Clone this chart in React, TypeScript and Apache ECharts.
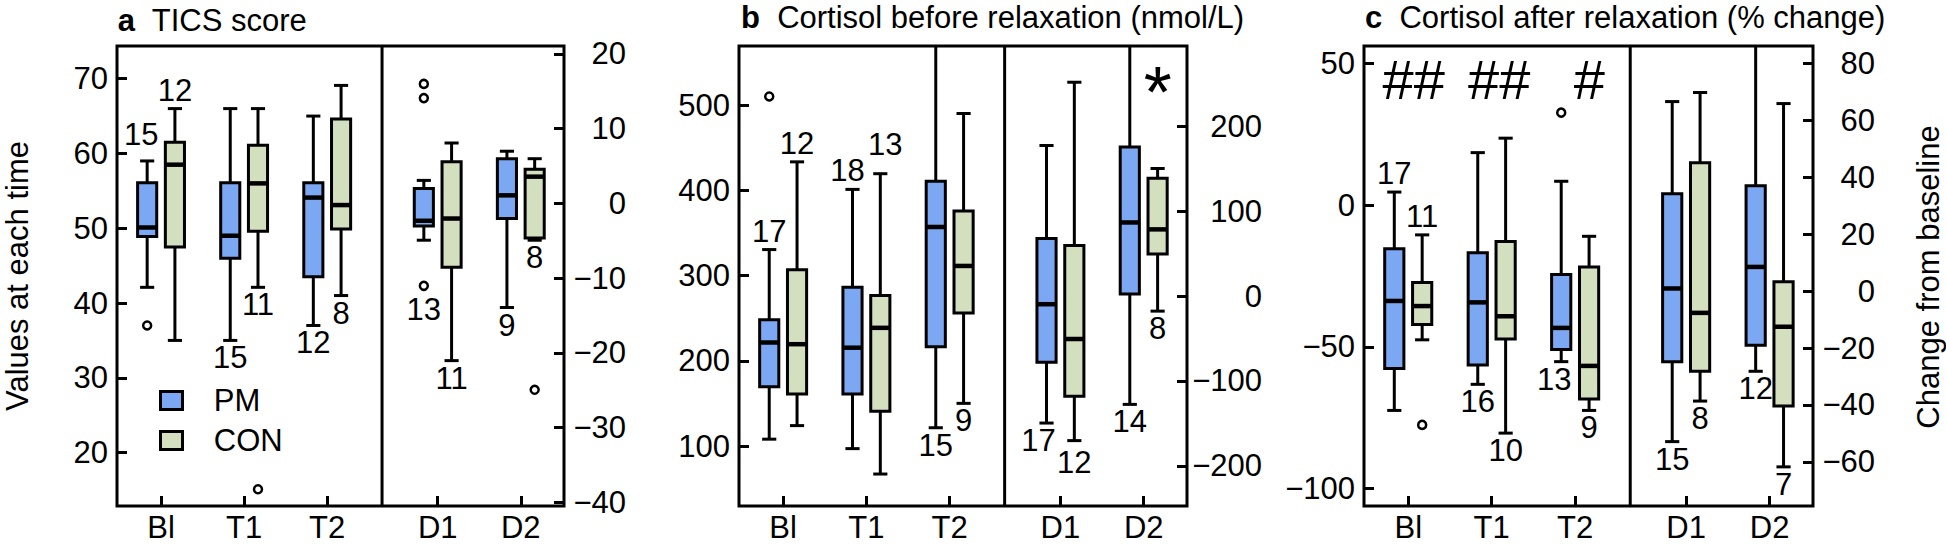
import React, { useEffect, useRef } from 'react';
import * as echarts from 'echarts';

const FONT = '"Liberation Sans", Arial, Helvetica, sans-serif';
const FS = 31;

const categories = ['Bl', 'T1', 'T2', 'D1', 'D2'];
const catPos = [1, 2, 3, 4.33, 5.33];
const dividerPos = 3.66;
const xRange = [0.47, 5.85];

// ---- panel a: TICS score ---- [min, q1, median, q3, max]
const ticsPM = [
  [42.1, 48.9, 50.1, 56.1, 59.0],
  [35.0, 46.0, 49.0, 56.1, 66.0],
  [37.0, 43.5, 54.1, 56.1, 65.0],
  [48.4, 50.3, 51.0, 55.3, 56.4],
  [39.4, 51.3, 54.4, 59.3, 60.3],
];
const ticsCON = [
  [35.0, 47.5, 58.5, 61.5, 66.0],
  [42.1, 49.6, 56.0, 61.1, 66.0],
  [41.0, 49.9, 53.1, 64.6, 69.1],
  [32.3, 44.8, 51.3, 58.9, 61.4],
  [48.4, 48.7, 56.9, 57.9, 59.3],
];
const ticsPMOut = [[37.0], [], [], [69.3, 67.4, 42.3], []];
const ticsCONOut = [[], [15.1], [], [], [28.4]];
const ticsPMN = [15, 15, 12, 13, 9];
const ticsCONN = [12, 11, 8, 11, 8];
const ticsPMNPos = ['top', 'bottom', 'bottom', 'outlier', 'bottom'];
const ticsCONNPos = ['top', 'bottom', 'bottom', 'bottom', 'bottom'];
const ticsLeftRange = [12.86, 74.37];
const ticsRightRange = [-40.48, 21.07];
const ticsLeftTicks = [20, 30, 40, 50, 60, 70];
const ticsRightTicks = [-40, -30, -20, -10, 0, 10, 20];

// ---- panel b: Cortisol before relaxation ----
const prePM = [
  [108.2, 169.8, 221.6, 248.2, 330.6],
  [97.1, 161.2, 215.5, 286.5, 401.2],
  [121.6, 216.7, 357.1, 410.6, 600],
  [127.1, 198.4, 266.5, 343.7, 452.7],
  [149.0, 278.4, 362.4, 451.0, 600],
];
const preCON = [
  [124.1, 161.2, 219.6, 306.9, 433.5],
  [67.3, 140.8, 238.8, 276.7, 419.6],
  [150.2, 256.3, 311.4, 375.9, 490.2],
  [106.5, 158.4, 225.7, 335.5, 526.9],
  [258.4, 325.3, 354.3, 414.3, 425.7],
];
const prePMOut = [[510.2], [], [], [], []];
const preCONOut = [[], [], [], [], []];
const prePMN = [17, 18, 15, 17, 14];
const preCONN = [12, 13, 9, 12, 8];
const prePMNPos = ['top', 'top', 'bottom', 'bottom', 'bottom'];
const preCONNPos = ['top', 'top', 'bottom', 'bottom', 'bottom'];
const preLeftRange = [29.8, 569.4];
const preRightRange = [-247.1, 294.2];
const preLeftTicks = [100, 200, 300, 400, 500];
const preRightTicks = [-200, -100, 0, 100, 200];
const preMarks = [{ cat: 4, dx: 0.17, y: 534, text: '*', size: 72, lift: 0.22 }];

// ---- panel c: Cortisol after relaxation ----
const postPM = [
  [-72.4, -57.6, -33.8, -15.4, 4.6],
  [-63.2, -56.4, -34.3, -16.8, 18.5],
  [-55.2, -50.9, -43.3, -24.5, 8.4],
  [-83.4, -55.2, -29.4, 4.0, 36.5],
  [-58.6, -49.4, -21.8, 6.8, 70],
];
const postCON = [
  [-47.5, -42.1, -35.6, -27.3, -10.5],
  [-80.4, -47.2, -39.2, -12.8, 23.6],
  [-72.4, -68.4, -56.7, -21.8, -11.0],
  [-69.1, -58.6, -38.0, 14.9, 39.7],
  [-92.3, -70.8, -42.9, -27.0, 35.8],
];
const postPMOut = [[], [], [32.6], [], []];
const postCONOut = [[-77.5], [], [], [], []];
const postPMN = [17, 16, 13, 15, 12];
const postCONN = [11, 10, 9, 8, 7];
const postPMNPos = ['top', 'bottom', 'bottom', 'bottom', 'bottom'];
const postCONNPos = ['top', 'bottom', 'bottom', 'bottom', 'bottom'];
const postLeftRange = [-106.1, 56.1];
const postRightRange = [-75.5, 86.1];
const postLeftTicks = [-100, -50, 0, 50];
const postRightTicks = [-60, -40, -20, 0, 20, 40, 60, 80];
const postMarks = [
  { cat: 0, dx: 0.065, y: 44.2, text: '##', size: 56, lift: 0 },
  { cat: 1, dx: 0.09, y: 44.2, text: '##', size: 56, lift: 0 },
  { cat: 2, dx: 0.17, y: 44.2, text: '#', size: 56, lift: 0 },
];

// small pixel nudges for count labels (panel-group-index)
const labelNudges: Record<string, [number, number]> = {
  'a-pm-0': [-6, -8],
  'b-pm-1': [-5, 0],
  'b-con-1': [5, -11],
  'b-pm-3': [-8, 0],
  'b-con-3': [0, 4],
  'c-pm-2': [-7, 0],
};

const PM_COLOR = '#7ca8f3';
const CON_COLOR = '#d3dfbf';
const OFFSET = 0.167;
const BOX_W = 0.23;
const CAP_W = 0.17;
const OUT_R = 5;

const panels = [
  {
    id: 'a', grid: { left: 117, top: 46, width: 447, height: 460 },
    pm: ticsPM, con: ticsCON, pmOut: ticsPMOut, conOut: ticsCONOut,
    pmN: ticsPMN, conN: ticsCONN, pmNPos: ticsPMNPos, conNPos: ticsCONNPos,
    left: ticsLeftRange, right: ticsRightRange, leftTicks: ticsLeftTicks, rightTicks: ticsRightTicks,
    rightMargin: 62, marks: [] as any[],
  },
  {
    id: 'b', grid: { left: 739, top: 46, width: 448, height: 460 },
    pm: prePM, con: preCON, pmOut: prePMOut, conOut: preCONOut,
    pmN: prePMN, conN: preCONN, pmNPos: prePMNPos, conNPos: preCONNPos,
    left: preLeftRange, right: preRightRange, leftTicks: preLeftTicks, rightTicks: preRightTicks,
    rightMargin: 75, marks: preMarks,
  },
  {
    id: 'c', grid: { left: 1364, top: 46, width: 449, height: 460 },
    pm: postPM, con: postCON, pmOut: postPMOut, conOut: postCONOut,
    pmN: postPMN, conN: postCONN, pmNPos: postPMNPos, conNPos: postCONNPos,
    left: postLeftRange, right: postRightRange, leftTicks: postLeftTicks, rightTicks: postRightTicks,
    rightMargin: 62, marks: postMarks,
  },
];

const minus = (v: number) => String(v).replace('-', '\u2212');

function makeBoxRender(key: string, stats: number[][], ns: number[], npos: string[], outs: number[][], offset: number, fill: string) {
  return (params: any, api: any) => {
    const i = params.dataIndex;
    const x = catPos[i] + offset;
    const [mn, q1, md, q3, mx] = stats[i];
    const c = (v: number) => api.coord([x, v]);
    const pmin = c(mn), pq1 = c(q1), pmd = c(md), pq3 = c(q3), pmax = c(mx);
    const w = api.size([BOX_W, 0])[0];
    const cw = api.size([CAP_W, 0])[0];
    const cx = pmin[0];
    const ls = { stroke: '#000', lineWidth: 3 };
    const children: any[] = [
      { type: 'line', shape: { x1: cx, y1: pmax[1], x2: cx, y2: pq3[1] }, style: ls },
      { type: 'line', shape: { x1: cx, y1: pq1[1], x2: cx, y2: pmin[1] }, style: ls },
      { type: 'line', shape: { x1: cx - cw / 2, y1: pmax[1], x2: cx + cw / 2, y2: pmax[1] }, style: ls },
      { type: 'line', shape: { x1: cx - cw / 2, y1: pmin[1], x2: cx + cw / 2, y2: pmin[1] }, style: ls },
      { type: 'rect', shape: { x: cx - w / 2, y: pq3[1], width: w, height: pq1[1] - pq3[1] }, style: { fill, stroke: '#000', lineWidth: 3 } },
      { type: 'line', shape: { x1: cx - w / 2, y1: pmd[1], x2: cx + w / 2, y2: pmd[1] }, style: { stroke: '#000', lineWidth: 4.5 } },
    ];
    const pos = npos[i];
    let ty = 0;
    let va = 'top';
    if (pos === 'top') { ty = pmax[1] - 3; va = 'bottom'; }
    else if (pos === 'outlier') {
      const lo = Math.min(...outs[i]);
      ty = c(lo)[1] + OUT_R + 3; va = 'top';
    } else { ty = pmin[1] + 2; va = 'top'; }
    const nudge = labelNudges[key + '-' + i] || [0, 0];
    children.push({
      type: 'text', x: cx + nudge[0], y: ty + nudge[1],
      style: { text: String(ns[i]), fontSize: FS, fontFamily: FONT, fill: '#000', align: 'center', verticalAlign: va, lineHeight: FS },
    });
    return { type: 'group', children };
  };
}

function buildOption() {
  const grid: any[] = [];
  const xAxis: any[] = [];
  const yAxis: any[] = [];
  const series: any[] = [];
  const labelStyle = { fontSize: FS, fontFamily: FONT, color: '#000' };
  const tickStyle = { color: '#000', width: 3 };

  panels.forEach((p, gi) => {
    grid.push({ ...p.grid, show: true, borderColor: '#000', borderWidth: 3, backgroundColor: 'transparent', containLabel: false });
    xAxis.push({
      type: 'value', gridIndex: gi, position: 'bottom', min: xRange[0], max: xRange[1],
      axisLine: { show: false, onZero: false }, splitLine: { show: false },
      axisTick: { show: true, inside: true, length: 10, customValues: catPos, lineStyle: tickStyle },
      axisLabel: {
        ...labelStyle, margin: 9, lineHeight: 24, customValues: catPos,
        formatter: (v: number) => {
          const idx = catPos.findIndex((q) => Math.abs(q - v) < 1e-6);
          return idx >= 0 ? categories[idx] : '';
        },
      },
    });
    yAxis.push({
      type: 'value', gridIndex: gi, position: 'left', min: p.left[0], max: p.left[1],
      axisLine: { show: false, onZero: false }, splitLine: { show: false },
      axisTick: { show: true, inside: true, length: 10, customValues: p.leftTicks, lineStyle: tickStyle },
      axisLabel: { ...labelStyle, margin: 9, customValues: p.leftTicks, formatter: minus },
    });
    yAxis.push({
      type: 'value', gridIndex: gi, position: 'right', min: p.right[0], max: p.right[1],
      axisLine: { show: false, onZero: false }, splitLine: { show: false },
      axisTick: { show: true, inside: true, length: 10, customValues: p.rightTicks, lineStyle: tickStyle },
      axisLabel: { ...labelStyle, margin: p.rightMargin, align: 'right', customValues: p.rightTicks, formatter: minus },
    });

    const yi = gi * 2;
    series.push({
      type: 'custom', name: 'divider', xAxisIndex: gi, yAxisIndex: yi, silent: true,
      data: [[dividerPos, p.left[0]]],
      renderItem: (params: any, api: any) => {
        const cs = params.coordSys;
        const pt = api.coord([api.value(0), api.value(1)]);
        return { type: 'line', shape: { x1: pt[0], y1: cs.y, x2: pt[0], y2: cs.y + cs.height }, style: { stroke: '#000', lineWidth: 3 } };
      },
    });
    series.push({
      type: 'custom', name: 'PM', xAxisIndex: gi, yAxisIndex: yi, clip: true,
      data: p.pm.map((s, i) => [catPos[i] - OFFSET, ...s]),
      encode: { x: 0, y: [1, 2, 3, 4, 5] },
      renderItem: makeBoxRender(p.id + '-pm', p.pm, p.pmN, p.pmNPos, p.pmOut, -OFFSET, PM_COLOR),
    });
    series.push({
      type: 'custom', name: 'CON', xAxisIndex: gi, yAxisIndex: yi, clip: true,
      data: p.con.map((s, i) => [catPos[i] + OFFSET, ...s]),
      encode: { x: 0, y: [1, 2, 3, 4, 5] },
      renderItem: makeBoxRender(p.id + '-con', p.con, p.conN, p.conNPos, p.conOut, OFFSET, CON_COLOR),
    });
    const outData: number[][] = [];
    p.pmOut.forEach((arr, i) => arr.forEach((v) => outData.push([catPos[i] - OFFSET, v])));
    p.conOut.forEach((arr, i) => arr.forEach((v) => outData.push([catPos[i] + OFFSET, v])));
    series.push({
      type: 'scatter', name: 'outliers', xAxisIndex: gi, yAxisIndex: yi, data: outData,
      symbol: 'circle', symbolSize: 2 * OUT_R - 2,
      itemStyle: { color: '#fff', borderColor: '#000', borderWidth: 2.5, opacity: 1 },
      z: 5,
    });
    if (p.marks.length) {
      series.push({
        type: 'custom', name: 'marks', xAxisIndex: gi, yAxisIndex: yi,
        data: p.marks.map((m) => [catPos[m.cat] + m.dx, m.y]),
        renderItem: (params: any, api: any) => {
          const m = p.marks[params.dataIndex];
          const pt = api.coord([api.value(0), api.value(1)]);
          return {
            type: 'text', x: pt[0], y: pt[1] + m.lift * m.size,
            style: { text: m.text, fontSize: m.size, fontFamily: FONT, fill: '#000', align: 'center', verticalAlign: 'middle' },
          };
        },
      });
    }
  });

  const titleStyle = (text: string) => ({
    text, fontSize: FS, fontFamily: FONT, fill: '#000', align: 'left', verticalAlign: 'middle', lineHeight: 28,
    rich: { b: { fontWeight: 'bold', fontSize: FS, fontFamily: FONT, lineHeight: 28 } },
  });

  const graphic: any[] = [
    { type: 'text', x: 117.8, y: 20.5, style: titleStyle('{b|a}  TICS score') },
    { type: 'text', x: 741, y: 17, style: titleStyle('{b|b}  Cortisol before relaxation (nmol/L)') },
    { type: 'text', x: 1365, y: 17, style: titleStyle('{b|c}  Cortisol after relaxation (% change)') },
    {
      type: 'text', x: 17.5, y: 276, rotation: Math.PI / 2,
      style: { text: 'Values at each time', fontSize: FS, fontFamily: FONT, fill: '#000', align: 'center', verticalAlign: 'middle', lineHeight: 26 },
    },
    {
      type: 'text', x: 1928.5, y: 277, rotation: Math.PI / 2,
      style: { text: 'Change from baseline', fontSize: FS, fontFamily: FONT, fill: '#000', align: 'center', verticalAlign: 'middle', lineHeight: 26 },
    },
    { type: 'rect', shape: { x: 160.5, y: 391.5, width: 22, height: 18 }, style: { fill: PM_COLOR, stroke: '#000', lineWidth: 3 } },
    { type: 'rect', shape: { x: 160.5, y: 431.5, width: 22, height: 18 }, style: { fill: CON_COLOR, stroke: '#000', lineWidth: 3 } },
    { type: 'text', x: 213.8, y: 400.5, style: { text: 'PM', fontSize: FS, fontFamily: FONT, fill: '#000', align: 'left', verticalAlign: 'middle' } },
    { type: 'text', x: 213.8, y: 440.5, style: { text: 'CON', fontSize: FS, fontFamily: FONT, fill: '#000', align: 'left', verticalAlign: 'middle' } },
  ];

  return { animation: false, backgroundColor: '#fff', grid, xAxis, yAxis, series, graphic };
}

export default function App() {
  const ref = useRef<HTMLDivElement>(null);
  useEffect(() => {
    if (!ref.current) return;
    const chart = echarts.init(ref.current, undefined, { renderer: 'svg' });
    chart.setOption(buildOption() as any);
    return () => chart.dispose();
  }, []);
  return <div ref={ref} style={{ position: 'absolute', left: 0, top: 0, width: 1946, height: 546 }} />;
}
